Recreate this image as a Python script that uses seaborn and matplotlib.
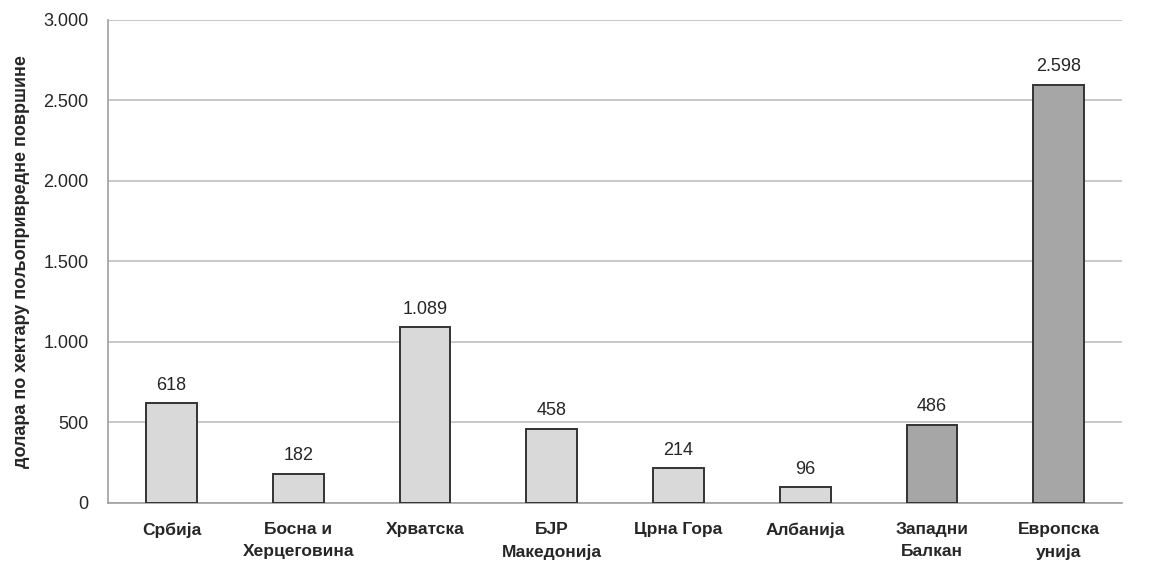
import numpy as np
import pandas as pd
import matplotlib
matplotlib.use('Agg')
import matplotlib.pyplot as plt
import seaborn as sns
from matplotlib.ticker import FuncFormatter

# Data
countries = ['Србија', 'Босна и\nХерцеговина', 'Хрватска', 'БЈР\nМакедонија',
             'Црна Гора', 'Албанија', 'Западни\nБалкан', 'Европска\nунија']
values = [618, 182, 1089, 458, 214, 96, 486, 2598]
groups = ['country'] * 6 + ['aggregate'] * 2
y_label = 'долара по хектару пољопривредне површине'

sns.set_style('white')
plt.rcParams['font.family'] = ['Liberation Sans', 'DejaVu Sans']

palette = {'country': '#d9d9d9', 'aggregate': '#a6a6a6'}
df = pd.DataFrame({'country': countries, 'value': values, 'group': groups})

fig = plt.figure(figsize=(11.51, 5.65), dpi=100)
ax = fig.add_axes([0.094, 0.11, 0.881, 0.855])

sns.barplot(data=df, x='country', y='value', hue='group', palette=palette,
            dodge=False, width=0.4, edgecolor='#333333', linewidth=1.4,
            legend=False, ax=ax, zorder=3)

ax.set_ylim(0, 3000)
ax.set_xlim(-0.5, len(countries) - 0.5)
ax.set_yticks(np.arange(0, 3001, 500))
ax.yaxis.set_major_formatter(FuncFormatter(lambda v, p: f'{int(v):,}'.replace(',', '.')))
ax.yaxis.grid(True, color='#bfbfbf', linewidth=1.2, zorder=0)
ax.set_axisbelow(True)

# category boundary ticks on x axis
ax.set_xticks(np.arange(-0.5, len(countries), 1.0))
ax.set_xticklabels([])
ax.set_xticks(np.arange(len(countries)), minor=True)
ax.set_xticklabels(countries, minor=True, fontweight='bold', fontsize=12.5,
                   linespacing=1.6)
ax.tick_params(axis='x', which='major', length=6, color='#a0a0a0', width=1.2,
               direction='out')
ax.tick_params(axis='x', which='minor', length=0, pad=14)
ax.tick_params(axis='y', length=6, color='#a0a0a0', width=1.2, direction='out',
               labelsize=13, pad=8)

for s in ['top', 'right']:
    ax.spines[s].set_visible(False)
for s in ['left', 'bottom']:
    ax.spines[s].set_color('#a0a0a0')
    ax.spines[s].set_linewidth(1.2)

ax.set_xlabel('')
ax.set_ylabel(y_label, fontweight='bold', fontsize=13, labelpad=10)

for i, v in enumerate(values):
    ax.text(i, v + 60, f'{v:,}'.replace(',', '.'), ha='center', va='bottom',
            fontsize=13)

plt.savefig('out.png', dpi=100)
